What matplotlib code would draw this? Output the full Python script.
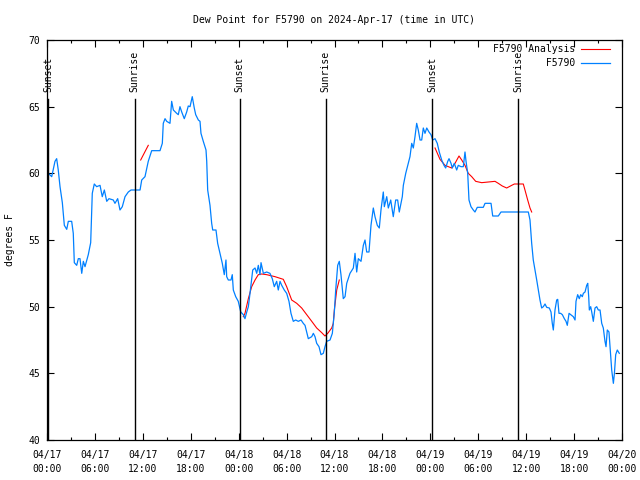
import matplotlib
matplotlib.use("Agg")
import matplotlib.pyplot as plt
import numpy as np

# hours since 2024-04-17 00:00 UTC
obs_hours = [
    0.0, 0.59, 1.0, 1.21, 1.41, 1.63, 1.92, 2.17, 2.47, 2.67, 3.09, 3.29, 3.42, 3.72, 3.92,
    4.13, 4.35, 4.55, 4.76, 5.17, 5.47, 5.67, 5.92, 6.22, 6.64, 6.92, 7.18, 7.48, 7.76, 8.30,
    8.51, 8.85, 9.14, 9.43, 9.77, 10.18, 10.52, 11.65, 11.86, 12.27, 12.68,
    13.11, 14.15, 14.44, 14.56, 14.78, 14.99, 15.40, 15.61, 15.82, 16.24, 16.44, 16.65, 16.87,
    17.19, 17.49, 17.69, 17.91, 18.19, 18.44, 18.62, 18.95, 19.16, 19.28, 19.57, 19.91, 20.00,
    20.12, 20.41, 20.62, 20.75, 21.16, 21.37, 21.66, 21.95, 22.20, 22.41, 22.50, 22.70, 23.04,
    23.20, 23.33, 23.63, 23.95, 24.26, 24.58, 24.79, 25.01,
    25.21, 25.42, 25.63, 25.76, 26.05, 26.26, 26.46, 26.67, 26.80, 27.09, 27.51, 27.92, 28.21,
    28.46, 28.76, 28.96, 29.18, 29.39, 29.71, 30.01, 30.30, 30.55, 30.84, 31.14, 31.47, 31.81,
    32.09, 32.31, 32.52, 32.72, 33.15, 33.35, 33.56, 33.77, 34.06, 34.31, 34.60, 34.81, 35.02,
    35.44, 35.73, 35.98, 36.15, 36.40, 36.60, 36.81, 37.10,
    37.32, 37.53, 37.94, 38.36, 38.57, 38.78, 38.98, 39.32, 39.61, 39.82, 40.03, 40.32, 40.57,
    40.86, 41.07, 41.36, 41.61, 41.82, 42.11, 42.24, 42.54, 42.74, 43.04, 43.24, 43.36, 43.66,
    43.91, 44.11, 44.33, 44.49, 44.62, 44.92, 45.17, 45.45, 45.67, 45.87, 46.08, 46.29, 46.49,
    46.71, 46.92, 47.12, 47.33, 47.55, 47.83, 48.08, 48.30, 48.59, 48.87, 49.12, 49.42, 49.71,
    49.92, 50.18, 50.34, 50.59, 50.75, 51.00, 51.30, 51.50, 51.84, 52.13, 52.34, 52.47, 52.68,
    52.84, 53.09, 53.38, 53.59, 53.88, 54.63, 54.85, 55.60, 55.81, 56.51, 56.85, 60.27, 60.48,
    60.69, 60.89, 61.11, 61.32, 61.52, 61.73, 61.94, 62.15, 62.36, 62.57, 62.90, 63.11, 63.27,
    63.40, 63.61, 63.82, 63.95, 64.11, 64.32, 64.53, 64.78, 64.99, 65.15, 65.37, 65.58, 65.90,
    66.12, 66.24, 66.45, 66.65, 66.83, 67.03, 67.16, 67.37, 67.58, 67.71, 67.83, 67.91, 68.08,
    68.21, 68.41, 68.62, 68.83, 69.03, 69.25, 69.46, 69.66, 69.87, 70.00, 70.16, 70.37, 70.59,
    70.71, 70.92, 71.05, 71.21, 71.41, 71.66,
]
obs_dewpt = [
    60.1, 59.75, 60.9, 61.1, 60.25, 59.0, 57.8, 56.1, 55.8, 56.4, 56.4, 55.5, 53.3, 53.1, 53.6,
    53.6, 52.5, 53.4, 53.0, 53.9, 54.8, 58.5, 59.2, 59.0, 59.1, 58.25, 58.75, 57.9, 58.1, 58.0,
    57.75, 58.1, 57.25, 57.5, 58.25, 58.6, 58.75, 58.75, 59.5, 59.75, 60.9,
    61.7, 61.7, 62.25, 63.75, 64.1, 63.9, 63.75, 65.4, 64.75, 64.5, 64.4, 65.0, 64.6,
    64.1, 64.6, 65.05, 65.0, 65.75, 64.9, 64.4, 64.0, 63.9, 63.0, 62.4, 61.75, 60.9,
    58.75, 57.6, 56.25, 55.75, 55.75, 54.75, 54.0, 53.25, 52.4, 53.5, 52.25, 52.0, 52.0,
    52.4, 51.25, 50.75, 50.4, 49.6, 49.4, 49.1, 49.6,
    50.0, 51.0, 52.1, 52.75, 52.9, 52.5, 53.1, 52.4, 53.3, 52.5, 52.6, 52.5, 52.1,
    51.5, 51.9, 51.25, 51.9, 51.6, 51.25, 51.0, 50.4, 49.5, 48.9, 49.0, 48.9, 49.0,
    48.75, 48.6, 48.1, 47.6, 47.75, 48.0, 47.75, 47.25, 47.0, 46.4, 46.5, 47.0, 47.4,
    47.5, 48.0, 49.6, 51.25, 53.1, 53.4, 52.4, 50.6,
    50.75, 51.75, 52.5, 52.9, 54.0, 52.6, 53.6, 53.4, 54.6, 55.0, 54.1, 54.1, 56.1,
    57.4, 56.75, 56.1, 55.9, 57.25, 58.6, 57.5, 58.25, 57.4, 58.0, 57.25, 56.75, 58.0,
    58.0, 57.1, 57.75, 58.25, 59.1, 60.0, 60.6, 61.25, 62.25, 61.9, 62.75, 63.75, 63.25,
    62.5, 62.5, 63.4, 63.0, 63.4, 63.1, 62.9, 62.5, 62.6, 62.25, 61.6, 61.0, 60.6,
    60.4, 60.9, 61.1, 60.75, 60.4, 60.75, 60.25, 60.6, 60.5, 60.5, 61.6, 60.9, 60.0,
    58.0, 57.5, 57.25, 57.1, 57.45, 57.45, 57.75, 57.75, 56.8, 56.8, 57.1, 57.1, 56.5,
    54.75, 53.5, 52.75, 52.0, 51.25, 50.5, 49.9, 50.0, 50.2, 49.95, 49.9, 49.6, 48.75,
    48.25, 49.75, 50.5, 50.55, 49.5, 49.5, 49.4, 49.1, 48.9, 48.6, 49.5, 49.4, 49.25,
    49.0, 50.4, 50.9, 50.6, 50.9, 50.75, 51.0, 51.1, 51.6, 51.75, 50.75, 49.75, 50.0,
    49.6, 48.9, 49.9, 50.0, 49.75, 49.75, 48.75, 48.4, 47.4, 47.0, 48.25, 48.1, 46.25,
    45.25, 44.25, 45.0, 46.4, 46.75, 46.5,
]

# analysis series, three separate pieces
ana1_hours = [11.73, 12.68]
ana1_dewpt = [61.0, 62.1]
ana2_hours = [24.58, 24.79, 25.21, 25.63, 26.05, 26.46, 26.88, 27.51, 28.55, 29.59, 30.01,
              30.64, 31.27, 31.89, 32.52, 33.15, 33.77, 34.40, 34.81, 35.15, 35.65, 35.85,
              35.98, 36.28, 36.60]
ana2_dewpt = [49.25, 49.5, 50.6, 51.5, 52.0, 52.4, 52.45, 52.4, 52.25, 52.05, 51.5,
              50.5, 50.25, 49.9, 49.4, 48.9, 48.4, 48.05, 47.8, 48.0, 48.4, 48.75,
              49.75, 51.25, 52.0]
ana3_hours = [48.59, 49.21, 49.84, 50.46, 50.68, 51.09, 51.59, 51.93, 52.34, 52.75, 53.18,
              53.68, 54.43, 56.10, 56.51, 57.01, 57.56, 58.19, 58.52, 59.64, 59.85, 60.19,
              60.48, 60.69]
ana3_dewpt = [61.9, 61.05, 60.6, 60.45, 60.4, 60.75, 61.3, 61.0, 60.6, 60.0, 59.75,
              59.4, 59.3, 59.4, 59.25, 59.05, 58.9, 59.1, 59.2, 59.2, 58.75, 58.0,
              57.4, 57.1]

sun_hours = [0.13, 11.0, 24.15, 34.9, 48.2, 59.0]
sun_labels = ["Sunset", "Sunrise", "Sunset", "Sunrise", "Sunset", "Sunrise"]

xtick_hours = list(range(0, 73, 6))
xtick_labels = ["04/17\n00:00", "04/17\n06:00", "04/17\n12:00", "04/17\n18:00",
                "04/18\n00:00", "04/18\n06:00", "04/18\n12:00", "04/18\n18:00",
                "04/19\n00:00", "04/19\n06:00", "04/19\n12:00", "04/19\n18:00",
                "04/20\n00:00"]

plt.rcParams["font.family"] = "DejaVu Sans Mono"
plt.rcParams["font.size"] = 7

fig = plt.figure(figsize=(6.4, 4.8), dpi=100)
ax = fig.add_axes([47 / 640, 40 / 480, 575 / 640, 400 / 480])

red = "#ff0000"
blue = "#0080ff"

ana_line, = ax.plot(ana1_hours, ana1_dewpt, color=red, lw=0.8)
ax.plot(ana2_hours, ana2_dewpt, color=red, lw=0.8)
ax.plot(ana3_hours, ana3_dewpt, color=red, lw=0.8)
obs_line, = ax.plot(obs_hours, obs_dewpt, color=blue, lw=0.9)

for h, lab in zip(sun_hours, sun_labels):
    ax.axvline(h, ymin=0, ymax=0.853, color="black", lw=1)
    ax.text(h, 0.87, lab, rotation=90, ha="center", va="bottom",
            transform=ax.get_xaxis_transform())

ax.set_xlim(0, 72)
ax.set_ylim(40, 70)
ax.set_xticks(xtick_hours)
ax.set_xticklabels(xtick_labels)
ax.set_xticks(np.arange(0, 73, 3), minor=True)
ax.set_yticks(range(40, 71, 5))
for lbl in ax.get_xticklabels():
    lbl.set_linespacing(1.5)

ax.tick_params(which="both", direction="in", top=True, right=True, width=0.8)
ax.tick_params(which="major", length=5)
ax.tick_params(which="minor", length=2.5)
ax.tick_params(axis="x", pad=7)
ax.tick_params(axis="y", pad=5)
for s in ax.spines.values():
    s.set_linewidth(0.9)

labels = ["F5790 Analysis", "F5790"]
width = max(len(l) for l in labels)
ax.legend([ana_line, obs_line], [l.rjust(width) for l in labels],
          loc="upper right", bbox_to_anchor=(0.979, 0.99), frameon=False,
          markerfirst=False, handlelength=3.0, handletextpad=0.6,
          borderaxespad=0, borderpad=0, labelspacing=0.45)

fig.text(334 / 640, 1 - 20 / 480, "Dew Point for F5790 on 2024-Apr-17 (time in UTC)",
         ha="center", va="center")
fig.text(10 / 640, 0.5, "degrees F", rotation=90, ha="center", va="center")

fig.savefig("out.png", dpi=100)
